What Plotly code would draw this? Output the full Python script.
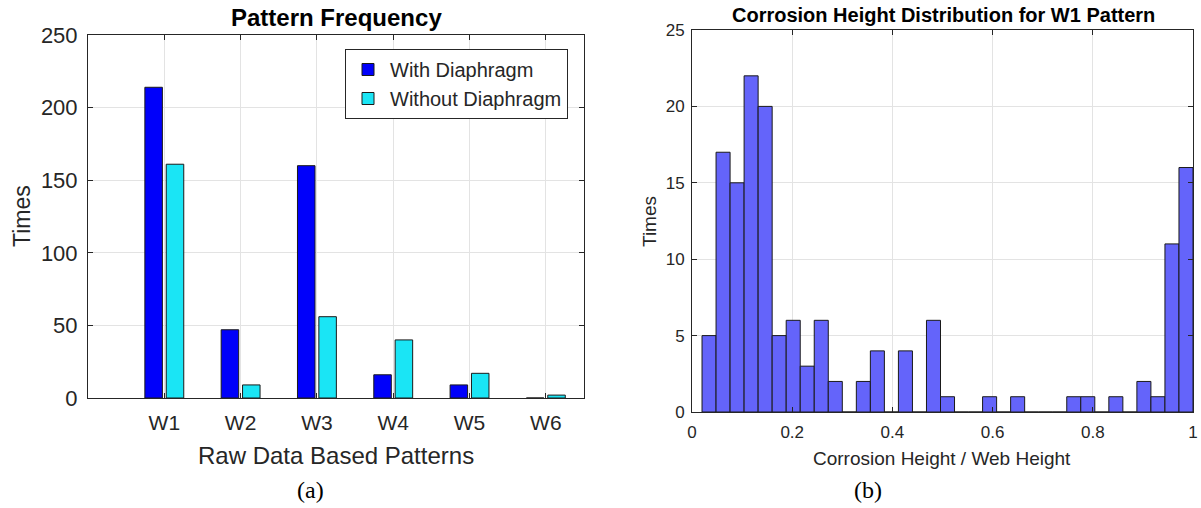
import plotly.graph_objects as go

# (a) pattern frequency
patterns = ["W1", "W2", "W3", "W4", "W5", "W6"]
pattern_pos = [1, 2, 3, 4, 5, 6]
with_diaphragm = [214, 47, 160, 16, 9, 0]
without_diaphragm = [161, 9, 56, 40, 17, 2]

# (b) histogram of corrosion height / web height for W1
bin_start = 0.02
bin_width = 0.028
w1_counts = [5, 17, 15, 22, 20, 5, 6, 3, 6, 2, 0, 2, 4, 0, 4, 0, 6, 1, 0, 0,
             1, 0, 1, 0, 0, 0, 1, 1, 0, 1, 0, 2, 1, 11, 16]
bin_centers = [bin_start + bin_width * (i + 0.5) for i in range(len(w1_counts))]

W, H = 1201, 508
FONT = "Liberation Sans, Arial, sans-serif"
SERIF = "Liberation Serif, Times New Roman, serif"
TXT = "#262626"
GRID = "#e3e3e3"

fig = go.Figure()

fig.add_trace(go.Bar(
    x=pattern_pos, y=with_diaphragm, name="With Diaphragm",
    marker=dict(color="rgb(0,0,250)", line=dict(color="#1a1a1a", width=1)),
    xaxis="x", yaxis="y",
))
fig.add_trace(go.Bar(
    x=pattern_pos, y=without_diaphragm, name="Without Diaphragm",
    marker=dict(color="rgb(26,229,245)", line=dict(color="#1a1a1a", width=1)),
    xaxis="x", yaxis="y",
))
fig.add_trace(go.Bar(
    x=bin_centers, y=w1_counts, width=bin_width, showlegend=False,
    marker=dict(color="rgb(100,100,250)", line=dict(color="#1a1a1a", width=1)),
    xaxis="x2", yaxis="y2",
))


def px_x(v):
    return v / W


def px_y(v):
    return 1 - v / H


def label(text, x, y, size, family=FONT, angle=0, color="black"):
    return dict(text=text, x=px_x(x), y=px_y(y), xref="paper", yref="paper",
                xanchor="center", yanchor="middle", showarrow=False, textangle=angle,
                font=dict(size=size, color=color, family=family))


axis_common = dict(
    showline=True, linecolor="#262626", linewidth=1, mirror="ticks",
    ticks="inside", ticklen=5, tickcolor="#262626",
    showgrid=True, gridcolor=GRID, gridwidth=1, zeroline=False,
    automargin=False,
)

fig.update_layout(
    width=W, height=H,
    margin=dict(l=0, r=0, t=0, b=0, autoexpand=False),
    paper_bgcolor="white", plot_bgcolor="white",
    barmode="group", bargap=0.44, bargroupgap=0.18,
    font=dict(family=FONT, color=TXT),
    xaxis=dict(
        axis_common, domain=[px_x(88), px_x(584)], anchor="y",
        range=[0, 6.5], tickvals=pattern_pos, ticktext=patterns,
        tickfont=dict(size=21, color=TXT), ticklabelstandoff=6,
    ),
    yaxis=dict(
        axis_common, domain=[px_y(398), px_y(35)], anchor="x",
        range=[0, 250], tickvals=[0, 50, 100, 150, 200, 250],
        tickfont=dict(size=22, color=TXT), ticklabelstandoff=5,
    ),
    xaxis2=dict(
        axis_common, domain=[px_x(692), px_x(1193)], anchor="y2",
        range=[0, 1], tickvals=[0, 0.2, 0.4, 0.6, 0.8, 1],
        ticktext=["0", "0.2", "0.4", "0.6", "0.8", "1"],
        tickfont=dict(size=17, color=TXT), ticklabelstandoff=5,
    ),
    yaxis2=dict(
        axis_common, domain=[px_y(412), px_y(30)], anchor="x2",
        range=[0, 25], tickvals=[0, 5, 10, 15, 20, 25],
        tickfont=dict(size=17, color=TXT), ticklabelstandoff=3,
    ),
    legend=dict(
        x=px_x(345), y=px_y(49), xanchor="left", yanchor="top",
        bgcolor="white", bordercolor="#262626", borderwidth=1,
        font=dict(size=20, color=TXT), tracegroupgap=0, itemwidth=34,
    ),
    annotations=[
        label("<b>Pattern Frequency</b>", 336, 17, 24),
        label("Raw Data Based Patterns", 336, 455, 24, color=TXT),
        label("Times", 22, 216, 23, angle=-90, color=TXT),
        label("<b>Corrosion Height Distribution for W1 Pattern</b>", 943, 15, 20),
        label("Corrosion Height / Web Height", 942, 458, 19, color=TXT),
        label("Times", 649, 221, 19, angle=-90, color=TXT),
        label("(a)", 310, 490, 24, SERIF),
        label("(b)", 868, 490, 24, SERIF),
    ],
)

# the page's default body margin would shift the 1201x508 figure by 8px
fig.write_html("out.html", config={"displayModeBar": False},
               post_script="document.body.style.margin='0';")
